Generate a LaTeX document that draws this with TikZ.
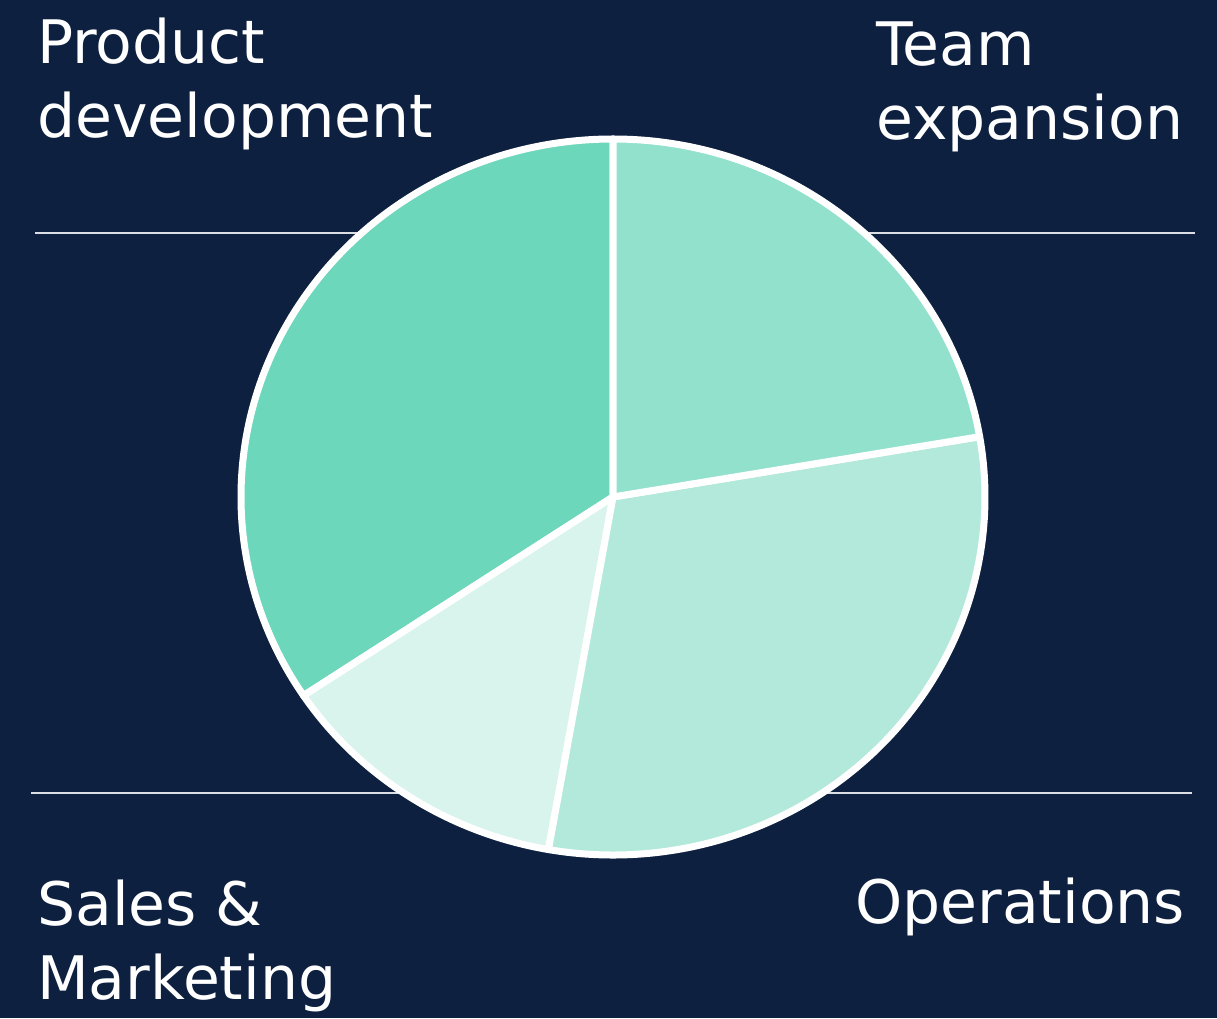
\documentclass[tikz,border=0pt]{standalone}
\usepackage{fontspec}
\newfontfamily\capfont{DejaVu Sans}
\definecolor{navy}{HTML}{0D2040}
\definecolor{prodgreen}{HTML}{6DD7BC}
\definecolor{teamgreen}{HTML}{92E1CC}
\definecolor{opsgreen}{HTML}{B3E9DB}
\definecolor{salesgreen}{HTML}{D8F4EC}

\begin{document}
\begin{tikzpicture}[
    x=1pt, y=1pt,
    slice/.style={draw=white, line width=7pt, line join=round},
    divider/.style={draw=white!85!navy, line width=2pt},
    caption/.style={text=white, anchor=base west, align=left, inner sep=0pt,
        font=\capfont\fontsize{60}{74}\selectfont}
]
    % background, also fixes the page size
    \fill[navy] (0,0) rectangle (1217,1018);
    \useasboundingbox (0,0) rectangle (1217,1018);

    % dividers behind the pie
    \coordinate (r1a) at (35,785);
    \coordinate (r1b) at (1195,785);
    \coordinate (r2a) at (31,225);
    \coordinate (r2b) at (1192,225);
    \draw[divider] (r1a) -- (r1b);
    \draw[divider] (r2a) -- (r2b);

    % pie
    \coordinate (c) at (613,521);
    \filldraw[slice, fill=prodgreen] (c) -- ++({372*cos(90)},{358*sin(90)})
        arc[start angle=90, end angle=213.7, x radius=372, y radius=358] -- cycle;
    \filldraw[slice, fill=salesgreen] (c) -- ++({372*cos(213.7)},{358*sin(213.7)})
        arc[start angle=213.7, end angle=260, x radius=372, y radius=358] -- cycle;
    \filldraw[slice, fill=opsgreen] (c) -- ++({372*cos(260)},{358*sin(260)})
        arc[start angle=260, end angle=369.7, x radius=372, y radius=358] -- cycle;
    \filldraw[slice, fill=teamgreen] (c) -- ++({372*cos(9.7)},{358*sin(9.7)})
        arc[start angle=9.7, end angle=90, x radius=372, y radius=358] -- cycle;

    % captions (base = last line)
    \node[caption] (prod) at (37,880) {Product\\development};
    \node[caption] (team) at (876,878) {Team\\expansion};
    \node[caption] (sales) at (37,19) {Sales \&\\Marketing};
    \node[caption] (ops) at (855,95) {Operations};
\end{tikzpicture}
\end{document}
